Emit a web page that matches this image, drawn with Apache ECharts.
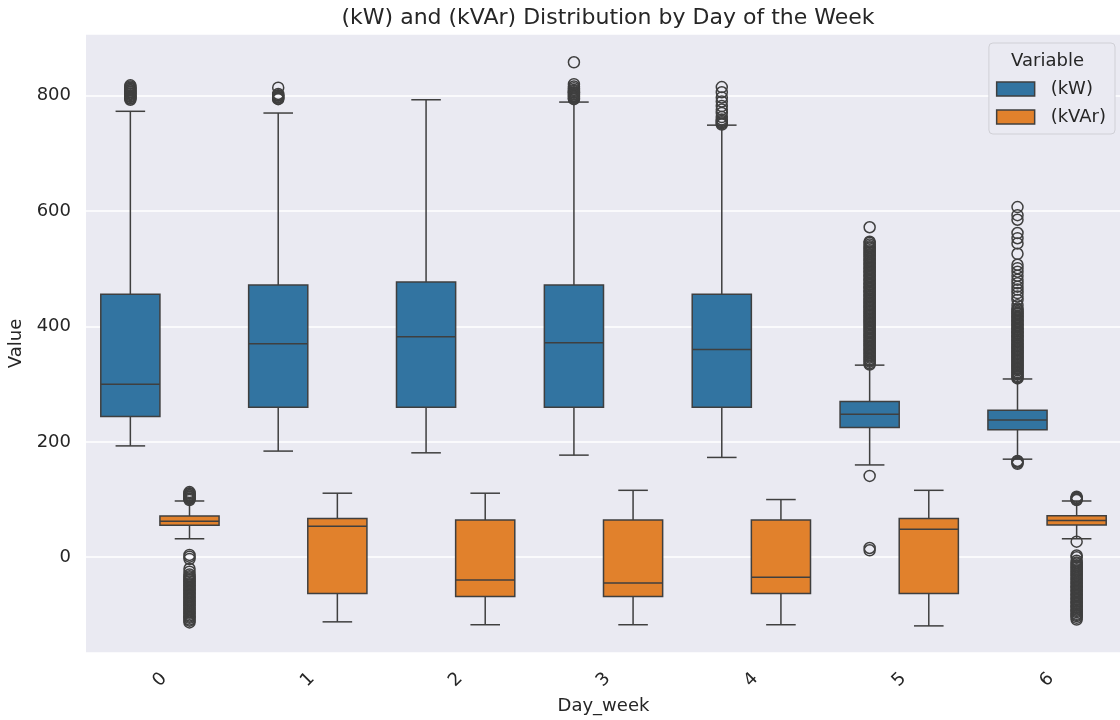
<!DOCTYPE html>
<html>
<head>
<meta charset="utf-8">
<script src="https://cdn.jsdelivr.net/npm/echarts@6/dist/echarts.min.js"></script>
<style>
  html, body { margin: 0; padding: 0; background: #ffffff; }
  #chart { width: 1120px; height: 720px; }
</style>
</head>
<body>
<div id="chart"></div>
<script>
// Day of week categories
const days = ['0', '1', '2', '3', '4', '5', '6'];

// Box statistics per day: [lower whisker, Q1, median, Q3, upper whisker]
const kwStats = [
  [193, 244, 300, 456, 773],
  [184, 260, 370, 472, 770],
  [181, 260, 382, 477, 793],
  [177, 260, 372, 472, 789],
  [173, 260, 360, 456, 749],
  [160, 225, 248, 270, 333],
  [170, 221, 238, 255, 309]
];
const kvarStats = [
  [32, 55.5, 62.5, 71.5, 97.5],
  [-112, -63, 53.5, 67, 111],
  [-117, -68, -39.5, 64.5, 111],
  [-117, -68, -44.5, 64.5, 116],
  [-117, -63, -34.5, 64.5, 100],
  [-119, -63, 48.5, 67, 116],
  [32, 56, 63.5, 72, 97.5]
];

// Outlying points per day
const kwOutliers = [
  [793, 795, 796, 798, 799, 801, 803, 804, 806, 807, 809, 810, 812, 814, 816, 818],
  [794, 795, 797, 798, 800, 801, 803, 814],
  [],
  [794, 795, 797, 799, 800, 802, 803, 805, 806, 808, 810, 813, 816, 820, 858],
  [750, 752, 754, 756, 759, 763, 770, 776, 782, 790, 797, 806, 815],
  [12, 16, 141,
   334, 336, 339, 341, 343, 346, 348, 350, 353, 355, 357, 360, 362, 364, 367, 369,
   371, 374, 376, 378, 381, 383, 385, 388, 390, 392, 395, 397, 399, 402, 404, 406,
   409, 411, 413, 416, 418, 420, 423, 425, 427, 430, 432, 434, 437, 439, 441, 444,
   446, 448, 451, 453, 455, 458, 460, 462, 465, 467, 469, 472, 474, 476, 479, 481,
   483, 486, 488, 490, 493, 495, 497, 500, 502, 504, 507, 509, 511, 514, 516, 518,
   521, 523, 525, 528, 530, 532, 535, 537, 539, 542, 545, 547, 572],
  [162, 164, 166, 167,
   310, 312, 314, 317, 319, 321, 324, 326, 328, 331, 333, 335, 338, 340, 342, 345,
   347, 349, 352, 354, 356, 359, 361, 363, 366, 368, 370, 373, 375, 377, 380, 382,
   384, 387, 389, 391, 394, 396, 398, 401, 403, 405, 408, 410, 412, 415, 417, 419,
   422, 424, 426, 429, 431,
   437, 446, 452, 458, 464, 469, 475, 481, 488, 495, 501, 507, 526, 544, 553, 562,
   585, 593, 607]
];
const kvarOutliers = [
  [99, 101, 102, 104, 105, 107, 108, 110, 111, 113,
   4, 1, -3, -20, -25, -30, -33, -35, -38, -40, -42, -45, -47, -49, -52, -54, -56,
   -59, -61, -63, -66, -68, -70, -73, -75, -77, -80, -82, -84, -87, -89, -91, -94,
   -96, -98, -101, -103, -105, -108, -110, -113],
  [], [], [], [], [],
  [99, 100, 102, 103, 105,
   27, 3, 0, -6, -9, -11, -14, -16, -18, -21, -23, -25, -28, -30, -32, -35, -37,
   -39, -42, -44, -46, -49, -51, -53, -56, -58, -60, -63, -65, -67, -70, -72, -74,
   -77, -79, -81, -84, -86, -88, -91, -93, -95, -98, -100, -102, -105, -108]
];

const seriesNames = ['(kW)', '(kVAr)'];
const seriesColors = ['#3274a1', '#e1812c'];
const LINE = '#3f3f3f';
const FONT = 'DejaVu Sans';
const TEXT = '#262626';

// side: -1 draws in the left half of the band, +1 in the right half
function boxRenderer(side, fill) {
  return function (params, api) {
    const cat = api.value(0);
    const band = api.size([1, 0])[0];
    const boxW = band * 0.4;
    const cx = api.coord([cat, 0])[0] + side * band * 0.2;
    const y = v => api.coord([cat, v])[1];
    const lo = y(api.value(1)), q1 = y(api.value(2)), med = y(api.value(3)),
          q3 = y(api.value(4)), hi = y(api.value(5));
    const ls = { stroke: LINE, lineWidth: 1.5 };
    const capW = boxW / 4;
    return {
      type: 'group',
      children: [
        { type: 'line', shape: { x1: cx, y1: q1, x2: cx, y2: lo }, style: ls },
        { type: 'line', shape: { x1: cx, y1: q3, x2: cx, y2: hi }, style: ls },
        { type: 'line', shape: { x1: cx - capW, y1: lo, x2: cx + capW, y2: lo }, style: ls },
        { type: 'line', shape: { x1: cx - capW, y1: hi, x2: cx + capW, y2: hi }, style: ls },
        { type: 'rect', shape: { x: cx - boxW / 2, y: q3, width: boxW, height: q1 - q3 },
          style: { fill: fill, stroke: LINE, lineWidth: 1.5 } },
        { type: 'line', shape: { x1: cx - boxW / 2, y1: med, x2: cx + boxW / 2, y2: med }, style: ls }
      ]
    };
  };
}

function outlierRenderer(side) {
  return function (params, api) {
    const cat = api.value(0);
    const band = api.size([1, 0])[0];
    const p = api.coord([cat, api.value(1)]);
    return {
      type: 'circle',
      shape: { cx: p[0] + side * band * 0.2, cy: p[1], r: 5.5 },
      style: { fill: 'transparent', stroke: LINE, lineWidth: 1.5 }
    };
  };
}

const statsList = [kwStats, kvarStats];
const outlierList = [kwOutliers, kvarOutliers];
const series = [];
statsList.forEach((stats, s) => {
  const side = s === 0 ? -1 : 1;
  series.push({
    name: seriesNames[s],
    type: 'custom',
    renderItem: boxRenderer(side, seriesColors[s]),
    itemStyle: { color: seriesColors[s] },
    encode: { x: 0, y: [1, 2, 3, 4, 5] },
    data: stats.map((row, i) => [i].concat(row)),
    z: 2
  });
});
outlierList.forEach((lists, s) => {
  const side = s === 0 ? -1 : 1;
  const pts = [];
  lists.forEach((vals, i) => vals.forEach(v => pts.push([i, v])));
  series.push({
    name: seriesNames[s],
    type: 'custom',
    renderItem: outlierRenderer(side),
    itemStyle: { color: seriesColors[s] },
    encode: { x: 0, y: 1 },
    data: pts,
    z: 3
  });
});

const chart = echarts.init(document.getElementById('chart'), null, { renderer: 'canvas' });
chart.setOption({
  animation: false,
  backgroundColor: '#ffffff',
  textStyle: { fontFamily: FONT },
  title: {
    text: '(kW) and (kVAr) Distribution by Day of the Week',
    left: 603,
    textAlign: 'center',
    top: 2,
    textStyle: { fontFamily: FONT, fontSize: 22, fontWeight: 'normal', color: TEXT }
  },
  grid: {
    left: 86, right: -1, top: 34, bottom: 67,
    show: true, backgroundColor: '#eaeaf2', borderWidth: 0,
    containLabel: false, outerBoundsMode: 'none'
  },
  xAxis: {
    type: 'category',
    data: days,
    boundaryGap: true,
    name: 'Day_week',
    nameLocation: 'middle',
    nameGap: 44,
    nameTextStyle: { fontFamily: FONT, fontSize: 18, color: TEXT },
    axisLine: { show: false },
    axisTick: { show: false },
    splitLine: { show: false },
    axisLabel: {
      rotate: 45, margin: 27, align: 'center', verticalAlign: 'middle',
      fontFamily: FONT, fontSize: 18, color: TEXT
    }
  },
  yAxis: {
    type: 'value',
    min: -166,
    max: 907,
    splitNumber: 5,
    name: 'Value',
    nameLocation: 'middle',
    nameGap: 60,
    nameTextStyle: { fontFamily: FONT, fontSize: 18, color: TEXT },
    axisLine: { show: false },
    axisTick: { show: false },
    splitLine: { show: true, lineStyle: { color: '#ffffff', width: 1.5 } },
    axisLabel: {
      margin: 15, showMinLabel: false, showMaxLabel: false,
      fontFamily: FONT, fontSize: 18, color: TEXT
    }
  },
  legend: {
    orient: 'vertical',
    right: 5,
    top: 43,
    padding: [36, 9, 7, 7],
    itemGap: 8,
    itemWidth: 38,
    itemHeight: 14,
    backgroundColor: '#eaeaf2',
    borderColor: '#d0d0d6',
    borderWidth: 1,
    borderRadius: 4,
    selectedMode: false,
    textStyle: { fontFamily: FONT, fontSize: 18, color: TEXT, lineHeight: 20, padding: [0, 0, 0, 11] },
    data: seriesNames.map((n, i) => ({
      name: n, icon: 'rect',
      itemStyle: { color: seriesColors[i], borderColor: LINE, borderWidth: 1.5 }
    }))
  },
  graphic: [{
    type: 'text',
    right: 36,
    top: 52,
    z: 100,
    style: { text: 'Variable', fontFamily: FONT, fontSize: 18, fill: TEXT }
  }],
  series: series
});
</script>
</body>
</html>
